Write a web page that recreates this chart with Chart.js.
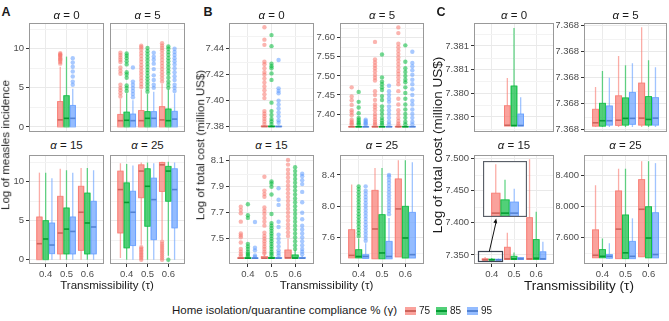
<!DOCTYPE html>
<html><head><meta charset="utf-8">
<script src="https://cdn.jsdelivr.net/npm/chart.js@4.4.1/dist/chart.umd.min.js"></script>
<style>
html,body{margin:0;padding:0;background:#fff;}
#wrap{position:relative;width:669px;height:321px;overflow:hidden;font-family:"Liberation Sans",Arial,Helvetica,sans-serif;color:#1a1a1a;}
canvas{position:absolute;}
.tx{position:absolute;white-space:nowrap;line-height:1;transform:translate(-50%,-50%);}
.rot{transform:translate(-50%,-50%) rotate(-90deg);}
.strip{font-size:11.5px;}
.axt{font-size:11.5px;}
.axtC{font-size:13.5px;}
.letter{font-size:12.5px;font-weight:bold;}
.leg{font-size:11.5px;transform:translate(0,-50%);}
.sw{position:absolute;width:11px;height:8px;transform:translate(0,-50%);}
.sw i{position:absolute;left:0;right:0;top:3px;height:2px;}
</style></head><body><div id="wrap"></div>
<script>
// ---------------- data ----------------
const tauValues = [0.4, 0.5, 0.6];
const tauLabels = ['0.4', '0.5', '0.6'];
const gammaLabels = ['75', '85', '95'];
const seriesColors = ['#F8766D', '#00BA38', '#619CFF'];

// boxes: [gamma][tau] = [lower whisker, Q1, median, Q3, upper whisker]; outliers: [gamma][tau] = values
// Panel A: log of measles incidence
const incA0_box = [
  [null, [0, 0, 0.9, 3.25, 7.7], null],
  [null, [0, 0, 1.1, 4.0, 9.0], null],
  [null, [0, 0, 1.1, 2.75, 4.9], null]];
const incA0_out = [
  [[], [8.1, 8.3, 8.5, 8.65, 8.8, 8.95, 9.1, 9.2, 9.3, 9.45], []],
  [[], [], []],
  [[], [5.4, 5.8, 6.45, 7.1, 7.7, 8.25, 8.8], []]];
const incA5_box = [
  [[0, 0, 0.8, 1.6, 3.6], [0, 0, 0.8, 2.1, 4.8], [0, 0, 0.9, 2.6, 5.5]],
  [[0, 0, 0.85, 1.9, 4.3], [0, 0, 1.1, 1.96, 4.2], [0, 0, 0.8, 2.3, 4.8]],
  [[0, 0, 0.8, 1.65, 3.4], [0, 0, 1.1, 1.96, 4.5], [0, 0, 1.0, 2.0, 4.3]]];
const incA5_out = [
  [[3.9, 4.3, 4.7, 5.0, 5.4, 6.8, 7.2, 7.6, 8.3, 8.6, 8.9, 9.2, 9.5],
   [5.1, 5.5, 5.9, 6.3, 6.7, 7.1, 7.5, 7.9, 8.3, 8.7, 9.1, 9.5, 9.9, 10.2, 10.4],
   [5.8, 6.2, 6.6, 7.0, 7.4, 7.8, 8.2, 8.6, 9.0, 9.4, 9.8, 10.1, 10.4, 10.7]],
  [[4.6, 5.0, 5.3, 6.3, 6.7, 7.0, 8.0, 8.4, 8.8, 9.1, 9.4],
   [4.5, 4.9, 5.3, 5.7, 6.1, 6.5, 6.9, 7.3, 7.7, 8.1, 8.5, 8.9, 9.3, 9.7, 10.1],
   [5.0, 5.4, 5.8, 6.3, 6.8, 7.2, 7.6, 8.0, 8.4, 8.8, 9.2, 9.6, 10.0, 10.3]],
  [[3.8, 4.2, 4.6, 5.0, 5.4, 5.8, 7.6],
   [5.0, 5.4, 6.0, 6.6, 7.4, 8.1, 8.6, 9.0, 9.5],
   [4.6, 5.0, 5.4, 6.0, 6.5, 7.0, 7.5, 8.0, 8.4, 8.8, 9.2, 9.6, 10.0]]];
const incA15_box = [
  [[0, 0, 2.04, 5.45, 11.1], [0, 0.73, 3.4, 8.08, 11.6], [0, 1.19, 6.05, 9.36, 11.7]],
  [[0, 0, 2.64, 4.98, 11.1], [0, 0.73, 3.9, 6.6, 11.4], [0, 0.73, 4.68, 8.5, 11.7]],
  [[0, 0.77, 1.87, 4.68, 10.4], [0, 0.73, 3.6, 5.45, 11.1], [0, 0.73, 4.17, 7.45, 11.4]]];
const incA15_out = [[[], [], []], [[], [], []], [[], [], []]];
const incA25_box = [
  [[0.2, 3.4, 8.94, 11.3, 12.3], [1.9, 7.9, 11.3, 12.1, 12.4], [2.55, 8.7, 12.1, 12.4, 12.5]],
  [[0, 1.5, 7.3, 9.8, 12.2], [0, 4.26, 9.36, 11.6, 12.4], [0.5, 7.45, 11.3, 11.9, 12.5]],
  [[0, 1.8, 6.05, 8.73, 12.0], [0, 2.55, 7.66, 10.4, 12.3], [0, 4.05, 8.94, 11.6, 12.4]]];
const incA25_out = [
  [[], [0, 0.2, 0.4, 0.6, 0.8, 1.0, 1.2, 1.4, 1.6], [0, 0.25, 0.5, 0.75, 1.0, 1.25, 1.5, 1.75, 2.0, 2.3]],
  [[], [], [0]],
  [[], [], []]];
const incTicks = [0, 5, 10];
const incTickLabels = ['0', '5', '10'];

// Panel B: log of total cost (with outliers)
const costB0_box = [
  [null, [7.38, 7.38, 7.3801, 7.3806, 7.3812], null],
  [null, [7.38, 7.38, 7.3801, 7.3805, 7.3810], null],
  [null, [7.38, 7.38, 7.3801, 7.3804, 7.3808], null]];
const costB0_out = [
  [[], [7.4565, 7.447, 7.443, 7.430, 7.428, 7.425, 7.422, 7.420, 7.417, 7.414, 7.411, 7.408, 7.405, 7.402, 7.392, 7.390, 7.388, 7.386, 7.384, 7.382], []],
  [[], [7.4505, 7.442, 7.4285, 7.4265, 7.425, 7.421, 7.416, 7.3985, 7.392, 7.389, 7.386, 7.384, 7.382], []],
  [[], [7.4313, 7.4095, 7.4075, 7.4057, 7.400, 7.397, 7.394, 7.391, 7.388, 7.385, 7.383], []]];
const costB0_ticks = [7.38, 7.40, 7.42, 7.44];
const costB0_labels = ['7.38', '7.40', '7.42', '7.44'];

const costB5_box = [
  [[7.3667, 7.3667, 7.3668, 7.3675, 7.3685], [7.3667, 7.3667, 7.3668, 7.3676, 7.3688], [7.3667, 7.3667, 7.3669, 7.3678, 7.369]],
  [[7.3667, 7.3667, 7.3668, 7.3675, 7.3685], [7.3667, 7.3667, 7.3668, 7.3676, 7.3688], [7.3667, 7.3667, 7.3668, 7.3677, 7.3689]],
  [[7.3667, 7.3667, 7.3668, 7.3674, 7.3683], [7.3667, 7.3667, 7.3668, 7.3676, 7.3687], [7.3667, 7.3667, 7.3668, 7.3677, 7.3688]]];
const costB5_out = [
  [[7.470, 7.446, 7.436, 7.424, 7.410, 7.404, 7.397, 7.385, 7.380, 7.376, 7.372],
   [7.589, 7.543, 7.535, 7.527, 7.520, 7.512, 7.503, 7.495, 7.488, 7.460, 7.450, 7.437, 7.425, 7.418, 7.410, 7.400, 7.393, 7.386, 7.380, 7.375, 7.371],
   [7.627, 7.612, 7.584, 7.575, 7.566, 7.557, 7.548, 7.540, 7.531, 7.522, 7.513, 7.505, 7.496, 7.487, 7.478, 7.460, 7.440, 7.425, 7.410, 7.400, 7.390, 7.382, 7.375, 7.370]],
  [[7.458, 7.432, 7.417, 7.402, 7.390, 7.385, 7.380, 7.376, 7.372],
   [7.556, 7.496, 7.485, 7.478, 7.470, 7.463, 7.447, 7.437, 7.420, 7.410, 7.400, 7.390, 7.383, 7.377, 7.372],
   [7.580, 7.537, 7.520, 7.510, 7.500, 7.490, 7.483, 7.470, 7.455, 7.440, 7.425, 7.412, 7.400, 7.390, 7.380, 7.373]],
  [[7.385, 7.382, 7.378, 7.375, 7.372],
   [7.474, 7.460, 7.450, 7.440, 7.432, 7.420, 7.410, 7.400, 7.390, 7.380, 7.373],
   [7.563, 7.534, 7.525, 7.515, 7.503, 7.490, 7.478, 7.465, 7.450, 7.435, 7.425, 7.412, 7.400, 7.390, 7.380, 7.373]]];
const costB5_ticks = [7.40, 7.45, 7.50, 7.55, 7.60];
const costB5_labels = ['7.40', '7.45', '7.50', '7.55', '7.60'];

const costB15_box = [
  [[7.349, 7.349, 7.350, 7.353, 7.358], [7.349, 7.349, 7.350, 7.362, 7.380], [7.349, 7.349, 7.353, 7.413, 7.50]],
  [[7.349, 7.349, 7.350, 7.353, 7.358], [7.349, 7.349, 7.350, 7.356, 7.365], [7.349, 7.349, 7.351, 7.375, 7.41]],
  [[7.349, 7.349, 7.350, 7.352, 7.356], [7.349, 7.349, 7.350, 7.354, 7.362], [7.349, 7.349, 7.350, 7.356, 7.37]]];
const costB15_out = [
  [[7.365, 7.38, 7.40, 7.42, 7.47, 7.51, 7.525, 7.54, 7.631, 7.695, 7.72, 7.746],
   [7.385, 7.40, 7.42, 7.44, 7.46, 7.48, 7.50, 7.52, 7.545, 7.60, 7.63, 7.66, 7.69, 7.715, 7.74, 7.823, 7.845, 7.87, 7.977],
   [7.52, 7.55, 7.58, 7.61, 7.64, 7.67, 7.70, 7.73, 7.76, 7.79, 7.82, 7.85, 7.88, 7.91, 7.94, 7.97, 8.0, 8.03, 8.07, 8.105]],
  [[7.365, 7.375, 7.385, 7.40, 7.42, 7.44, 7.46, 7.66, 7.68, 7.765],
   [7.37, 7.385, 7.40, 7.42, 7.44, 7.46, 7.48, 7.50, 7.52, 7.54, 7.56, 7.58, 7.60, 7.62, 7.69, 7.84, 7.90, 7.925, 7.94],
   [7.42, 7.45, 7.48, 7.51, 7.54, 7.57, 7.60, 7.63, 7.66, 7.69, 7.72, 7.75, 7.78, 7.81, 7.84, 7.87, 7.90, 7.93, 7.96, 7.99, 8.02, 8.05]],
  [[7.36, 7.37, 7.41, 7.43, 7.628],
   [7.37, 7.39, 7.41, 7.44, 7.47, 7.50, 7.53, 7.59, 7.63, 7.76, 7.80, 7.888],
   [7.38, 7.40, 7.42, 7.45, 7.48, 7.51, 7.54, 7.57, 7.60, 7.65, 7.70, 7.78, 7.86, 7.92, 7.95, 7.98, 8.0]]];
const costB15_ticks = [7.5, 7.7, 7.9, 8.1];
const costB15_labels = ['7.5', '7.7', '7.9', '8.1'];

const costB25_box = [
  [[7.341, 7.341, 7.374, 7.702, 8.277], [7.33, 7.33, 7.711, 8.204, 8.49], [7.354, 7.354, 7.967, 8.35, 8.587]],
  [[7.341, 7.341, 7.36, 7.447, 7.59], [7.33, 7.33, 7.405, 7.894, 8.49], [7.34, 7.34, 7.596, 8.0, 8.587]],
  [[7.33, 7.335, 7.36, 7.383, 7.53], [7.33, 7.33, 7.36, 7.553, 7.85], [7.34, 7.34, 7.383, 7.923, 8.562]]];
const costB25_out = [
  [[], [], []],
  [[7.62, 7.66, 7.70, 7.74, 7.78, 7.82, 7.86, 7.90, 7.94, 7.98, 8.02, 8.06, 8.10, 8.14, 8.18, 8.22, 8.255], [], []],
  [[7.56, 7.60, 7.64, 7.68, 7.72, 7.76, 7.80, 7.84, 7.88, 7.92, 7.96, 8.0, 8.04, 8.08, 8.12, 8.16, 8.20, 8.255],
   [7.90, 7.94, 7.98, 8.02, 8.06, 8.10, 8.14, 8.18, 8.22, 8.26, 8.30, 8.34, 8.38, 8.40], []]];
const costB25_ticks = [7.6, 8.0, 8.4];
const costB25_labels = ['7.6', '8.0', '8.4'];

// Panel C: log of total cost (outliers hidden)
const costC0_box = [
  [null, [7.379886, 7.379886, 7.379895, 7.380143, 7.380494], null],
  [null, [7.379886, 7.379886, 7.379892, 7.380393, 7.381128], null],
  [null, [7.379886, 7.379886, 7.379892, 7.380038, 7.380250], null]];
const costC0_ticks = [7.3800, 7.3803, 7.3806, 7.3809];
const costC0_labels = ['7.380', '7.380', '7.381', '7.381'];
const costC5_box = [
  [[7.36761, 7.367613, 7.367626, 7.367678, 7.367764], [7.36761, 7.367616, 7.367636, 7.367730, 7.367883], [7.36761, 7.367617, 7.367644, 7.367779, 7.367994]],
  [[7.36761, 7.367613, 7.367634, 7.367701, 7.367825], [7.36761, 7.367617, 7.367643, 7.367722, 7.367847], [7.36761, 7.367617, 7.367639, 7.367727, 7.367867]],
  [[7.36761, 7.367617, 7.367634, 7.367691, 7.367799], [7.36761, 7.367620, 7.367643, 7.367743, 7.367855], [7.36761, 7.367617, 7.367644, 7.367723, 7.367840]]];
const costC5_ticks = [7.3676, 7.3677, 7.3678, 7.3679, 7.3680];
const costC5_labels = ['7.368', '7.368', '7.368', '7.368', '7.368'];
const costC15_box = [
  [[7.3421, 7.3421, 7.3424, 7.3442, 7.3468], [7.3425, 7.343, 7.344, 7.362, 7.3846], [7.3425, 7.343, 7.344, 7.408, 7.4986]],
  [[7.3421, 7.3421, 7.3424, 7.3436, 7.3454], [7.3425, 7.343, 7.344, 7.348, 7.354], [7.3425, 7.343, 7.345, 7.374, 7.417]],
  [[7.3421, 7.3421, 7.3424, 7.3434, 7.3446], [7.3425, 7.343, 7.344, 7.346, 7.347], [7.3425, 7.343, 7.344, 7.355, 7.3707]]];
const costC15_ticks = [7.35, 7.40, 7.45, 7.50];
const costC15_labels = ['7.350', '7.400', '7.450', '7.500'];
const costC25_box = costB25_box;
const costC25_ticks = [7.6, 8.0, 8.4];
const costC25_labels = ['7.600', '8.000', '8.400'];
// inset: zoom on tau = 0.4 of the alpha = 15 facet
const insetTau = 0.4;
const insetZoomRange = [7.3411, 7.3567];
const insetYRange = [7.34205, 7.3471];

// ---------------- drawing ----------------
const FONT = '"Liberation Sans", Arial, Helvetica, sans-serif';
const wrap = document.getElementById('wrap');
function rgba(hex, a, dk) {
  const n = parseInt(hex.slice(1), 16);
  let r = n >> 16 & 255, g = n >> 8 & 255, b = n & 255;
  if (dk) { r = Math.round(r * dk); g = Math.round(g * dk); b = Math.round(b * dk); }
  return `rgba(${r},${g},${b},${a})`;
}
function minorValues(major, lo, hi) {
  const st = major[1] - major[0], out = [];
  for (let k = -30; k <= 30; k++) {
    const v = major[0] + (k + 0.5) * st;
    if (v >= lo && v <= hi) out.push(v);
  }
  return out;
}

function makeFrame(color, width) {
  return {
    id: 'frame',
    afterDraw(c) {
      const a = c.chartArea, x = c.ctx;
      x.save(); x.strokeStyle = color; x.lineWidth = width;
      x.strokeRect(Math.round(a.left) + 0.5, Math.round(a.top) + 0.5, Math.round(a.right - a.left) - 1, Math.round(a.bottom - a.top) - 1);
      x.restore();
    }
  };
}
function makeMinorGrid(values) {
  return {
    id: 'minorGrid',
    beforeDatasetsDraw(c) {
      const a = c.chartArea, ctx = c.ctx, y = c.scales.y;
      ctx.save(); ctx.strokeStyle = '#f3f3f3'; ctx.lineWidth = 1;
      values.forEach(v => {
        const p = Math.round(y.getPixelForValue(v)) + 0.5;
        ctx.beginPath(); ctx.moveTo(a.left, p); ctx.lineTo(a.right, p); ctx.stroke();
      });
      ctx.restore();
    }
  };
}
const boxPlugin = {
  id: 'boxes',
  beforeDatasetsDraw(c) {
    const y = c.scales.y, ctx = c.ctx, a = c.chartArea;
    ctx.save(); ctx.beginPath(); ctx.rect(a.left, a.top, a.right - a.left, a.bottom - a.top); ctx.clip();
    c.data.datasets.forEach((ds, di) => {
      const meta = c.getDatasetMeta(di);
      ds.data.forEach((d, j) => {
        const el = meta.data[j]; if (!el) return;
        const x = el.x;
        ctx.fillStyle = rgba(ds.seriesColor, 0.55);
        (d.out || []).forEach(v => { ctx.beginPath(); ctx.arc(x, y.getPixelForValue(v), 2.2, 0, Math.PI * 2); ctx.fill(); });
        ctx.strokeStyle = rgba(ds.seriesColor, 0.6); ctx.lineWidth = 1.3;
        ctx.beginPath();
        ctx.moveTo(x, y.getPixelForValue(d.s[0])); ctx.lineTo(x, y.getPixelForValue(d.s[1]));
        ctx.moveTo(x, y.getPixelForValue(d.s[3])); ctx.lineTo(x, y.getPixelForValue(d.s[4]));
        ctx.stroke();
      });
    });
    ctx.restore();
  },
  afterDatasetsDraw(c) {
    const y = c.scales.y, ctx = c.ctx, a = c.chartArea;
    ctx.save(); ctx.beginPath(); ctx.rect(a.left, a.top, a.right - a.left, a.bottom - a.top); ctx.clip();
    c.data.datasets.forEach((ds, di) => {
      const meta = c.getDatasetMeta(di);
      ds.data.forEach((d, j) => {
        const el = meta.data[j]; if (!el) return;
        const hw = el.width / 2, x = el.x;
        const y1 = y.getPixelForValue(d.s[1]), y3 = y.getPixelForValue(d.s[3]), ym = y.getPixelForValue(d.s[2]);
        ctx.strokeStyle = rgba(ds.seriesColor, 0.8); ctx.lineWidth = 1;
        ctx.strokeRect(x - hw + 0.5, y3, 2 * hw - 1, Math.max(y1 - y3, 0.5));
        ctx.strokeStyle = rgba(ds.seriesColor, 0.95, 0.82); ctx.lineWidth = 1.6;
        ctx.beginPath(); ctx.moveTo(x - hw + 0.5, ym); ctx.lineTo(x + hw - 0.5, ym); ctx.stroke();
      });
    });
    ctx.restore();
  }
};

function makeDatasets(box, out, tauFilter) {
  return gammaLabels.map((g, gi) => ({
    label: g,
    seriesColor: seriesColors[gi],
    backgroundColor: rgba(seriesColors[gi], 0.68),
    borderWidth: 0,
    data: tauValues.map((t, ti) => {
      const s = box[gi][ti];
      if (!s || (tauFilter !== undefined && t !== tauFilter)) return null;
      return { x: t, y: [s[1], s[3]], s, out: out ? out[gi][ti] : [] };
    }).filter(Boolean)
  }));
}

const P = 2, XH = 16;
function buildFacet(f) {
  const yw = f.showY ? f.yw : 0, xh = f.showX ? XH : 0;
  const W = P + yw + f.w + P, H = P + f.h + xh + P;
  const cv = document.createElement('canvas');
  cv.width = W; cv.height = H;
  cv.style.width = W + 'px'; cv.style.height = H + 'px';
  cv.style.left = (f.left - P - yw) + 'px'; cv.style.top = (f.top - P) + 'px';
  wrap.appendChild(cv);
  const majors = f.ticks.map((v, i) => ({ value: v, lbl: f.labels[i] }));
  return new Chart(cv, {
    type: 'bar',
    data: { datasets: makeDatasets(f.box, f.out) },
    options: {
      responsive: false, animation: false, devicePixelRatio: 1,
      layout: { padding: P },
      plugins: { legend: { display: false }, tooltip: { enabled: false } },
      datasets: { bar: { categoryPercentage: 0.9, barPercentage: 1 } },
      scales: {
        x: {
          type: 'linear', min: 0.32, max: 0.68, offset: false, bounds: 'data',
          afterBuildTicks: s => { s.ticks = tauValues.map((v, i) => ({ value: v, lbl: tauLabels[i] })); },
          afterFit: s => { s.height = xh; s.paddingLeft = 0; s.paddingRight = 0; s.paddingTop = 0; s.paddingBottom = 0; },
          ticks: { display: f.showX, callback: (v, i, t) => t[i].lbl, color: '#4d4d4d', font: { size: 9.5, family: FONT }, padding: 1.5, maxRotation: 0, autoSkip: false },
          grid: { color: '#ebebeb', offset: false, drawTicks: f.showX, tickLength: 3, tickColor: '#333' },
          border: { display: false }
        },
        y: {
          type: 'linear', min: f.yMin, max: f.yMax, bounds: 'data', beginAtZero: false,
          afterBuildTicks: s => { s.ticks = majors.map(o => ({ value: o.value, lbl: o.lbl })); },
          afterFit: s => { s.width = yw; s.paddingTop = 0; s.paddingBottom = 0; s.paddingLeft = 0; s.paddingRight = 0; },
          ticks: { display: f.showY, callback: (v, i, t) => t[i].lbl, color: '#4d4d4d', font: { size: 9.5, family: FONT }, padding: 2, autoSkip: false },
          grid: { color: '#e9e9e9', drawTicks: f.showY, tickLength: 3, tickColor: '#333' },
          border: { display: false }
        }
      }
    },
    plugins: [makeMinorGrid(minorValues(f.ticks, f.yMin, f.yMax)), boxPlugin, makeFrame('#999', 1)].concat(f.extra || [])
  });
}

const inset = { left: 483, top: 161, w: 44, h: 56 };
const zoomMarker = {
  id: 'zoomMarker',
  afterDraw(c) {
    const ys = c.scales.y, ctx = c.ctx;
    let l = Infinity, r = -Infinity;
    c.data.datasets.forEach((d, i) => {
      const m = c.getDatasetMeta(i);
      d.data.forEach((p, j) => { if (p.x === insetTau) { const e = m.data[j]; l = Math.min(l, e.x - e.width / 2); r = Math.max(r, e.x + e.width / 2); } });
    });
    l = Math.round(l - 4) + 0.5; r = Math.round(r) + 0.5;
    const t = Math.round(ys.getPixelForValue(insetZoomRange[1])) + 0.5, b = Math.round(ys.getPixelForValue(insetZoomRange[0])) + 0.5;
    ctx.save();
    ctx.strokeStyle = '#3b4250'; ctx.lineWidth = 1.2;
    ctx.strokeRect(l, t, r - l, b - t);
    const rect = c.canvas.getBoundingClientRect(), wr = wrap.getBoundingClientRect();
    const offX = rect.left - wr.left, offY = rect.top - wr.top;
    const x0 = l + (r - l) * 0.45, y0 = t;
    const x1 = inset.left + inset.w * 0.3 - offX, y1 = inset.top + inset.h - offY + 1.5;
    ctx.strokeStyle = '#111'; ctx.lineWidth = 1;
    ctx.beginPath(); ctx.moveTo(x0, y0); ctx.lineTo(x1, y1 + 3); ctx.stroke();
    const ang = Math.atan2(y1 - y0, x1 - x0);
    ctx.fillStyle = '#111'; ctx.beginPath();
    ctx.moveTo(x1, y1);
    ctx.lineTo(x1 - 5 * Math.cos(ang - 0.4), y1 - 5 * Math.sin(ang - 0.4));
    ctx.lineTo(x1 - 5 * Math.cos(ang + 0.4), y1 - 5 * Math.sin(ang + 0.4));
    ctx.closePath(); ctx.fill();
    ctx.restore();
  }
};

const TOP = 23, BOT = 155, H = 109;
const facets = [
  { left: 29, top: TOP, w: 75, h: H, yMin: -0.65, yMax: 13.3, ticks: incTicks, labels: incTickLabels, showY: true, showX: false, yw: 26, box: incA0_box, out: incA0_out },
  { left: 110, top: TOP, w: 75, h: H, yMin: -0.65, yMax: 13.3, ticks: incTicks, labels: incTickLabels, showY: false, showX: false, box: incA5_box, out: incA5_out },
  { left: 29, top: BOT, w: 75, h: H, yMin: -0.55, yMax: 13.35, ticks: incTicks, labels: incTickLabels, showY: true, showX: true, yw: 26, box: incA15_box, out: incA15_out },
  { left: 110, top: BOT, w: 75, h: H, yMin: -0.55, yMax: 13.35, ticks: incTicks, labels: incTickLabels, showY: false, showX: true, box: incA25_box, out: incA25_out },

  { left: 229, top: TOP, w: 85, h: H, yMin: 7.3759, yMax: 7.4598, ticks: costB0_ticks, labels: costB0_labels, showY: true, showX: false, yw: 26, box: costB0_box, out: costB0_out },
  { left: 340, top: TOP, w: 84, h: H, yMin: 7.353, yMax: 7.6385, ticks: costB5_ticks, labels: costB5_labels, showY: true, showX: false, yw: 26, box: costB5_box, out: costB5_out },
  { left: 229, top: BOT, w: 85, h: H, yMin: 7.305, yMax: 8.144, ticks: costB15_ticks, labels: costB15_labels, showY: true, showX: true, yw: 26, box: costB15_box, out: costB15_out },
  { left: 340, top: BOT, w: 84, h: H, yMin: 7.264, yMax: 8.655, ticks: costB25_ticks, labels: costB25_labels, showY: true, showX: true, yw: 26, box: costB25_box, out: costB25_out },

  { left: 474, top: TOP, w: 80, h: H, yMin: 7.37981, yMax: 7.38119, ticks: costC0_ticks, labels: costC0_labels, showY: true, showX: false, yw: 28, box: costC0_box, out: null },
  { left: 584, top: TOP, w: 83, h: H, yMin: 7.3675906, yMax: 7.36801, ticks: costC5_ticks, labels: costC5_labels, showY: true, showX: false, yw: 28, box: costC5_box, out: null },
  { left: 474, top: BOT, w: 80, h: H, yMin: 7.336, yMax: 7.5053, ticks: costC15_ticks, labels: costC15_labels, showY: true, showX: true, yw: 28, box: costC15_box, out: null, extra: [zoomMarker] },
  { left: 584, top: BOT, w: 83, h: H, yMin: 7.261, yMax: 8.667, ticks: costC25_ticks, labels: costC25_labels, showY: true, showX: true, yw: 28, box: costC25_box, out: null }
];
facets.forEach(buildFacet);

// inset chart
(function () {
  const cv = document.createElement('canvas');
  cv.width = inset.w; cv.height = inset.h;
  cv.style.width = inset.w + 'px'; cv.style.height = inset.h + 'px';
  cv.style.left = inset.left + 'px'; cv.style.top = inset.top + 'px';
  wrap.appendChild(cv);
  const bg = { id: 'bg', beforeDraw(c) { c.ctx.save(); c.ctx.fillStyle = '#fff'; c.ctx.fillRect(0, 0, c.width, c.height); c.ctx.restore(); } };
  new Chart(cv, {
    type: 'bar',
    data: { datasets: makeDatasets(costC15_box, null, insetTau) },
    options: {
      responsive: false, animation: false, devicePixelRatio: 1,
      layout: { padding: 0 },
      plugins: { legend: { display: false }, tooltip: { enabled: false } },
      datasets: { bar: { categoryPercentage: 0.63, barPercentage: 1 } },
      scales: {
        x: { type: 'linear', min: insetTau - 0.1, max: insetTau + 0.1, offset: false, display: false,
             afterBuildTicks: s => { s.ticks = [{ value: insetTau }]; } },
        y: { type: 'linear', min: insetYRange[0], max: insetYRange[1], display: false }
      }
    },
    plugins: [bg, boxPlugin, makeFrame('#5a5f68', 1.3)]
  });
})();

// ---------------- text ----------------
function addText(html, x, y, cls) {
  const d = document.createElement('div');
  d.className = 'tx ' + cls; d.innerHTML = html;
  d.style.left = x + 'px'; d.style.top = y + 'px';
  wrap.appendChild(d); return d;
}
const panelLetters = [['A', 6, 12], ['B', 208, 12], ['C', 441, 12]];
panelLetters.forEach(p => addText(p[0], p[1], p[2], 'letter'));
const alphaValues = ['0', '5', '15', '25'];
const panelColumns = [[66.5, 147.5], [271.5, 382], [514, 625.5]];
panelColumns.forEach(cols => {
  alphaValues.forEach((a, i) => {
    addText('<i>α</i> = ' + a, cols[i % 2], i < 2 ? 15.5 : 146, 'strip');
  });
});
addText('Log of measles incidence', 6, 145, 'axt rot');
addText('Log of total cost (million US$)', 201, 145, 'axt rot');
addText('Log of total cost (million US$)', 438, 145, 'axtC rot');
addText('Transmissibility (τ)', 107, 286, 'axt');
addText('Transmissibility (τ)', 326.5, 286, 'axt');
addText('Transmissibility (τ)', 579, 286, 'axtC');

// legend
const lg = document.createElement('div');
lg.className = 'tx leg'; lg.style.left = '172px'; lg.style.top = '310.5px';
lg.textContent = 'Home isolation/quarantine compliance % (γ)';
wrap.appendChild(lg);
const legendX = [405, 436, 467];
gammaLabels.forEach((g, i) => {
  const sw = document.createElement('div');
  sw.className = 'sw'; sw.style.left = legendX[i] + 'px'; sw.style.top = '310.5px';
  sw.style.background = rgba(seriesColors[i], 0.68);
  const m = document.createElement('i'); m.style.background = rgba(seriesColors[i], 0.95, 0.82); sw.appendChild(m);
  wrap.appendChild(sw);
  const t = document.createElement('div');
  t.className = 'tx leg'; t.style.left = (legendX[i] + 14) + 'px'; t.style.top = '310.5px';
  t.style.fontSize = '10px'; t.textContent = g;
  wrap.appendChild(t);
});
</script></body></html>
